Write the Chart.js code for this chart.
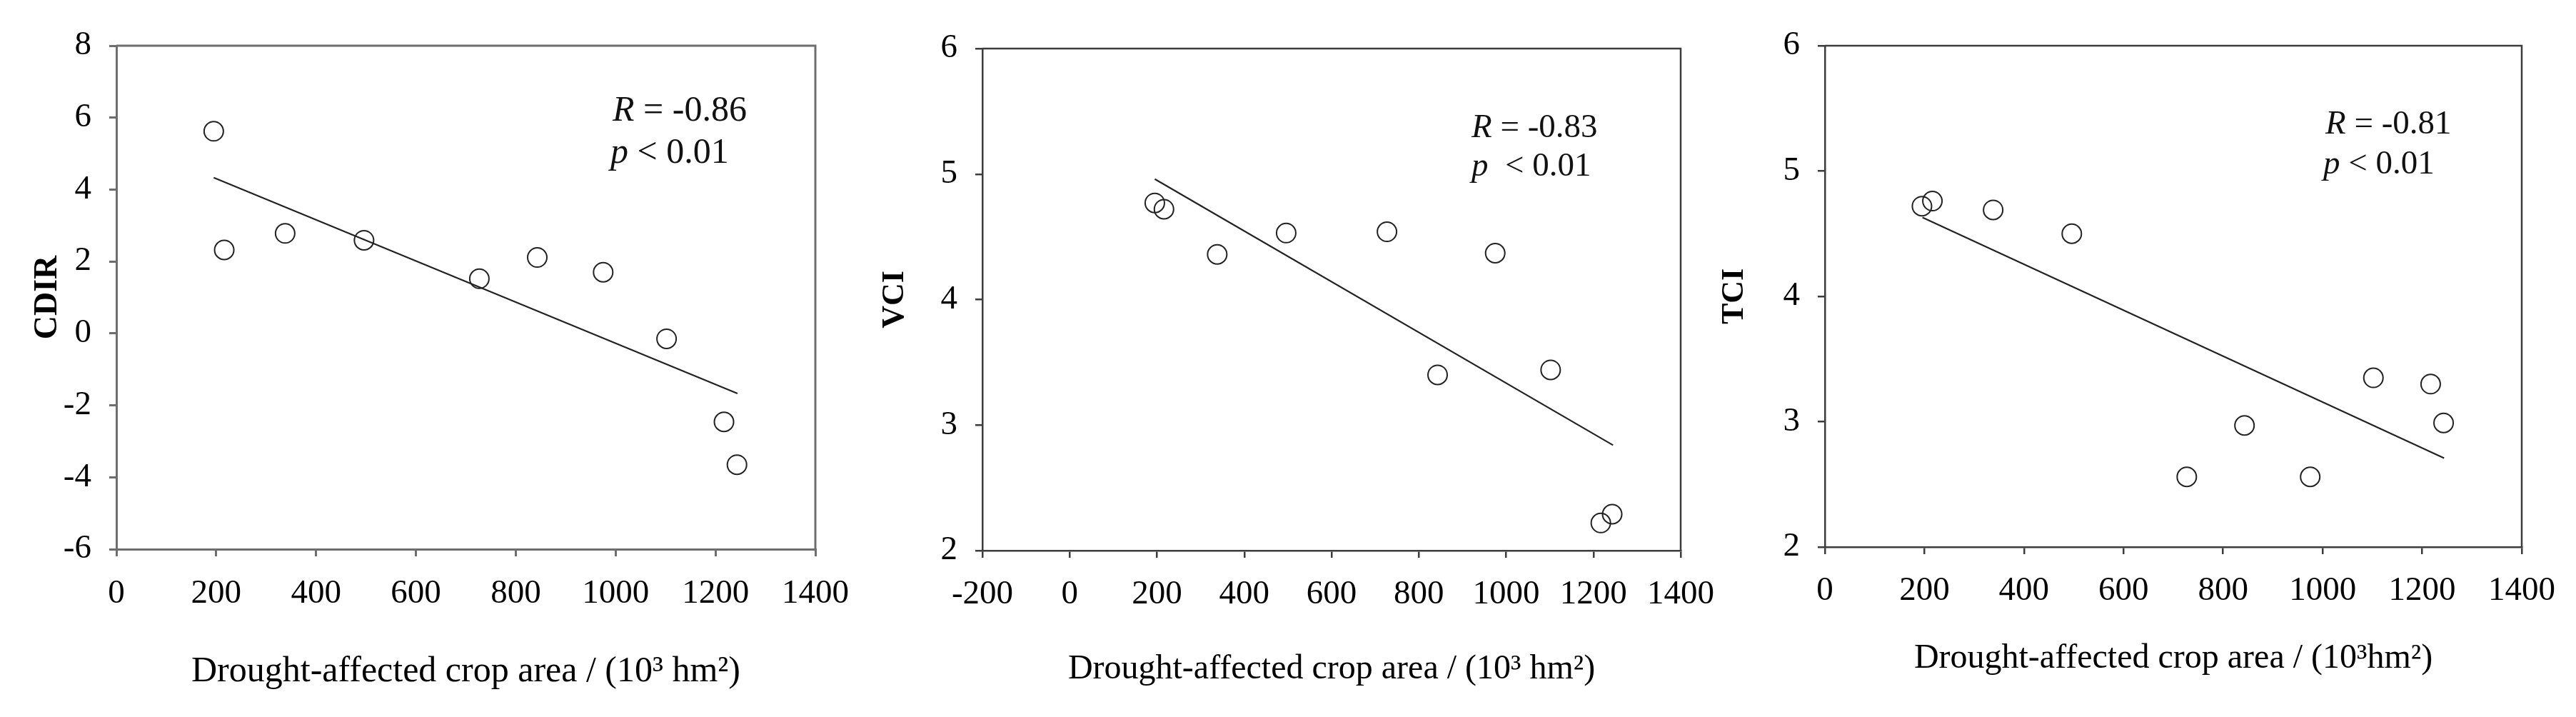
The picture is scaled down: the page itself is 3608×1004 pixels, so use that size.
<!DOCTYPE html>
<html><head><meta charset="utf-8">
<script src="https://cdn.jsdelivr.net/npm/chart.js@4.4.0/dist/chart.umd.min.js"></script>
<style>
html,body{margin:0;padding:0;background:#fff;}
body{width:3608px;height:1004px;position:relative;overflow:hidden;}
canvas{position:absolute;top:0;}
</style></head><body>
<canvas id="c1" width="1230" height="1004" style="left:0px"></canvas>
<canvas id="c2" width="1230" height="1004" style="left:1200px"></canvas>
<canvas id="c3" width="1218" height="1004" style="left:2390px"></canvas>
<script>
// ---- data ----
const cropArea = [195, 216, 338, 496, 727, 843, 975, 1102, 1217, 1243];
const cdir = [5.62, 2.32, 2.78, 2.59, 1.52, 2.11, 1.70, -0.15, -2.46, -3.65];
const vci  = [4.77, 4.72, 4.36, 4.53, 4.54, 3.40, 4.37, 3.44, 2.22, 2.29];
const tci  = [4.72, 4.76, 4.69, 4.50, 2.56, 2.97, 2.56, 3.35, 3.30, 2.99];
const cdirFitX = [195, 1244], cdirFitY = [4.33, -1.67];
const vciFitX  = [195, 1245], vciFitY  = [4.96, 2.84];
const tciFitX  = [196, 1244], tciFitY  = [4.63, 2.71];
const yTitles = ['CDIR', 'VCI', 'TCI'];
const xTitles = ['Drought-affected crop area / (10\u00B3 hm\u00B2)',
                 'Drought-affected crop area / (10\u00B3 hm\u00B2)',
                 'Drought-affected crop area / (10\u00B3hm\u00B2)'];
const rValues = ['-0.86', '-0.83', '-0.81'];
const pTexts  = [' < 0.01', '  < 0.01', ' < 0.01'];
const xMin = [0, -200, 0], xMax = [1400, 1400, 1400], xStep = [200, 200, 200];
const yMin = [-6, 2, 2], yMax = [8, 6, 6], yStep = [2, 1, 1];

const FONT = '"Liberation Serif", "Times New Roman", serif';

const framePlugin = {
  id: 'frame',
  afterDraw(chart, args, o) {
    const {ctx, chartArea: a} = chart;
    ctx.save();
    ctx.strokeStyle = o.color; ctx.lineWidth = o.width;
    ctx.beginPath();
    ctx.moveTo(a.left, a.top); ctx.lineTo(a.right, a.top); ctx.lineTo(a.right, a.bottom);
    ctx.stroke();
    ctx.restore();
  }
};
const statPlugin = {
  id: 'stat',
  afterDraw(chart, args, o) {
    const {ctx, chartArea: a} = chart;
    ctx.save();
    ctx.fillStyle = '#111';
    ctx.textBaseline = 'alphabetic';
    o.lines.forEach(line => {
      let x = a.left + line.dx;
      const y = a.top + line.dy;
      line.runs.forEach(r => {
        ctx.font = (r.italic ? 'italic ' : '') + o.size + 'px ' + FONT;
        ctx.fillText(r.text, x, y);
        x += ctx.measureText(r.text).width;
      });
    });
    ctx.restore();
  }
};

const geom = [
  {pad:{left:0,top:64,right:88,bottom:0}, yW:163, xH:235, axisColor:'#6e6e6e', axisW:3,
   yTitleSize:46, yTitlePad:40, xTitleSize:50, xTitlePad:33, xTickPad:24,
   stat:{size:50, r:{dx:695,dy:105}, p:{dx:692,dy:164}}},
  {pad:{left:0,top:68,right:76,bottom:0}, yW:176, xH:233, axisColor:'#3c3c3c', axisW:2.5,
   yTitleSize:44, yTitlePad:27, xTitleSize:48, xTitlePad:38, xTickPad:23,
   stat:{size:47, r:{dx:685,dy:124}, p:{dx:685,dy:178}}},
  {pad:{left:0,top:64,right:76,bottom:0}, yW:166, xH:238, axisColor:'#3c3c3c', axisW:2.5,
   yTitleSize:44, yTitlePad:13, xTitleSize:48, xTitlePad:53, xTickPad:23,
   stat:{size:47, r:{dx:701,dy:123}, p:{dx:698,dy:179}}}
];
const series = [cdir, vci, tci];
const fitXs = [cdirFitX, vciFitX, tciFitX];
const fitYs = [cdirFitY, vciFitY, tciFitY];

function makeChart(i) {
  const g = geom[i];
  const gridOpt = {display:true, drawOnChartArea:false, drawTicks:true, tickLength:10,
                   color:g.axisColor, lineWidth:g.axisW};
  const borderOpt = {display:true, color:g.axisColor, width:g.axisW};
  const plain = v => String(v);
  new Chart(document.getElementById('c' + (i + 1)), {
    type: 'scatter',
    data: {
      datasets: [
        {
          type: 'scatter',
          data: cropArea.map((x, k) => ({x: x, y: series[i][k]})),
          pointStyle: 'circle', pointRadius: 13.5, pointBorderWidth: 2,
          pointBorderColor: '#222', pointBackgroundColor: 'rgba(0,0,0,0)',
          showLine: false, clip: false
        },
        {
          type: 'line',
          data: fitXs[i].map((x, k) => ({x: x, y: fitYs[i][k]})),
          borderColor: '#222', borderWidth: 2.2, pointRadius: 0, fill: false, tension: 0
        }
      ]
    },
    options: {
      responsive: false, animation: false, devicePixelRatio: 1, events: [],
      layout: {padding: g.pad, autoPadding: false},
      plugins: {
        legend: {display: false}, tooltip: {enabled: false},
        frame: {color: g.axisColor, width: g.axisW},
        stat: {size: g.stat.size, lines: [
          {dx: g.stat.r.dx, dy: g.stat.r.dy, runs: [{text:'R', italic:true}, {text:' = ' + rValues[i]}]},
          {dx: g.stat.p.dx, dy: g.stat.p.dy, runs: [{text:'p', italic:true}, {text:pTexts[i]}]}
        ]}
      },
      scales: {
        x: {
          type: 'linear', position: 'bottom', min: xMin[i], max: xMax[i],
          ticks: {stepSize: xStep[i], color: '#000', padding: g.xTickPad, maxRotation: 0,
                  font: {family: FONT, size: 47}, callback: plain},
          grid: gridOpt, border: borderOpt,
          title: {display: true, text: xTitles[i], color: '#000',
                  font: {family: FONT, size: g.xTitleSize}, padding: {top: 0, bottom: g.xTitlePad}},
          afterFit: s => { s.height = g.xH; }
        },
        y: {
          type: 'linear', position: 'left', min: yMin[i], max: yMax[i],
          ticks: {stepSize: yStep[i], color: '#000', padding: 25,
                  font: {family: FONT, size: 47}, callback: plain},
          grid: gridOpt, border: borderOpt,
          title: {display: true, text: yTitles[i], color: '#000',
                  font: {family: FONT, size: g.yTitleSize, weight: 'bold'}, padding: {top: g.yTitlePad, bottom: 0}},
          afterFit: s => { s.width = g.yW; }
        }
      }
    },
    plugins: [framePlugin, statPlugin]
  });
}
[0, 1, 2].forEach(makeChart);
</script>
</body></html>
